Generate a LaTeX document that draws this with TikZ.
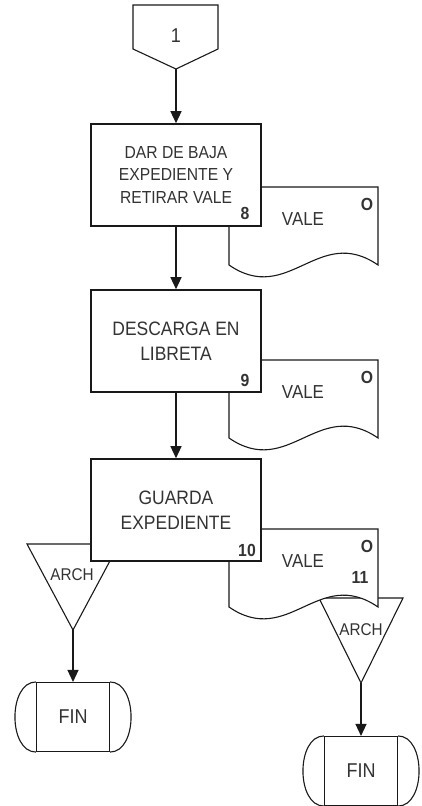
\documentclass[tikz,border=0pt]{standalone}
\usepackage{fontspec}
\setmainfont{Liberation Sans}[FakeStretch=0.9]
\usetikzlibrary{arrows.meta}

\tikzset{
  line/.style={draw=black!90, line width=1.1pt},
  proc/.style={line, line width=1.6pt, fill=white, minimum width=170pt, minimum height=102pt,
    inner sep=0pt, align=center, text=black!80, font=\fontsize{19.4}{25}\selectfont},
  lbl/.style={inner sep=0pt, text=black!80, font=\fontsize{18.8}{18.8}\selectfont},
  num/.style={lbl, font=\fontsize{17.5}{17.5}\selectfont\bfseries},
  fin/.style={line, minimum width=73pt, minimum height=69pt, inner sep=0pt,
    text=black!80, font=\fontsize{20}{20}\selectfont},
  flow/.style={draw=black!90, line width=1.3pt, -{Triangle[length=12pt,width=11pt]}},
}

\begin{document}
\begin{tikzpicture}[x=1pt, y=-1pt]
\useasboundingbox (0,0) rectangle (422,806);

% conector de pagina
\draw[line] (133,5) -- (218,5) -- (218,49) -- (176,69) -- (133,49) -- cycle;
\node[lbl, font=\fontsize{20}{20}\selectfont] (c1) at (176,36) {1};
\coordinate (c1tip) at (176,69);

% archivos
\draw[line, fill=white] (27,544) -- (119,544) -- (73,630) -- cycle;
\coordinate (arch1tip) at (73,630);
\node[lbl, font=\fontsize{17}{17}\selectfont] (arch1) at (72,575) {ARCH};
\draw[line, fill=white] (319,598) -- (403,598) -- (361,683) -- cycle;
\coordinate (arch2tip) at (361,683);
\node[lbl, font=\fontsize{17}{17}\selectfont] (arch2) at (361,630) {ARCH};

% documentos VALE
\foreach \y [count=\i] in {187,360,529} {
  \draw[line, fill=white] (229,\y) -- (378,\y) -- (378,\y+78)
    .. controls +(-59.6,-41) and +(59.6,41) .. (229,\y+78) -- cycle;
  \node[lbl] (vale\i) at (303,\y+32) {VALE};
  \node[num] (o\i) at (367,\y+17) {O};
}

% procesos
\node[proc, font=\fontsize{17.4}{22.5}\selectfont] (b1) at (176,175) {DAR DE BAJA\\EXPEDIENTE Y\\RETIRAR VALE};
\node[proc] (b2) at (176,341) {DESCARGA EN\\LIBRETA};
\node[proc] (b3) at (176,510) {GUARDA\\EXPEDIENTE};

\node[num] (n8) at (245,213) {8};
\node[num] (n9) at (245,380) {9};
\node[num] (n10) at (247,550) {10};
\node[num] (n11) at (360,577) {11};

% fin
\node[fin] (fin1) at (73,717) {FIN};
\draw[line] (fin1.north west) .. controls +(-28,0) and +(-28,0) .. (fin1.south west);
\draw[line] (fin1.north east) .. controls +(28,0) and +(28,0) .. (fin1.south east);
\node[fin] (fin2) at (361,771) {FIN};
\draw[line] (fin2.north west) .. controls +(-28,0) and +(-28,0) .. (fin2.south west);
\draw[line] (fin2.north east) .. controls +(28,0) and +(28,0) .. (fin2.south east);

\draw[flow] (c1tip) -- (b1);
\draw[flow] (b1) -- (b2);
\draw[flow] (b2) -- (b3);
\draw[flow] (arch1tip) -- (fin1.north);
\draw[flow] (arch2tip) -- (fin2.north);
\end{tikzpicture}
\end{document}
